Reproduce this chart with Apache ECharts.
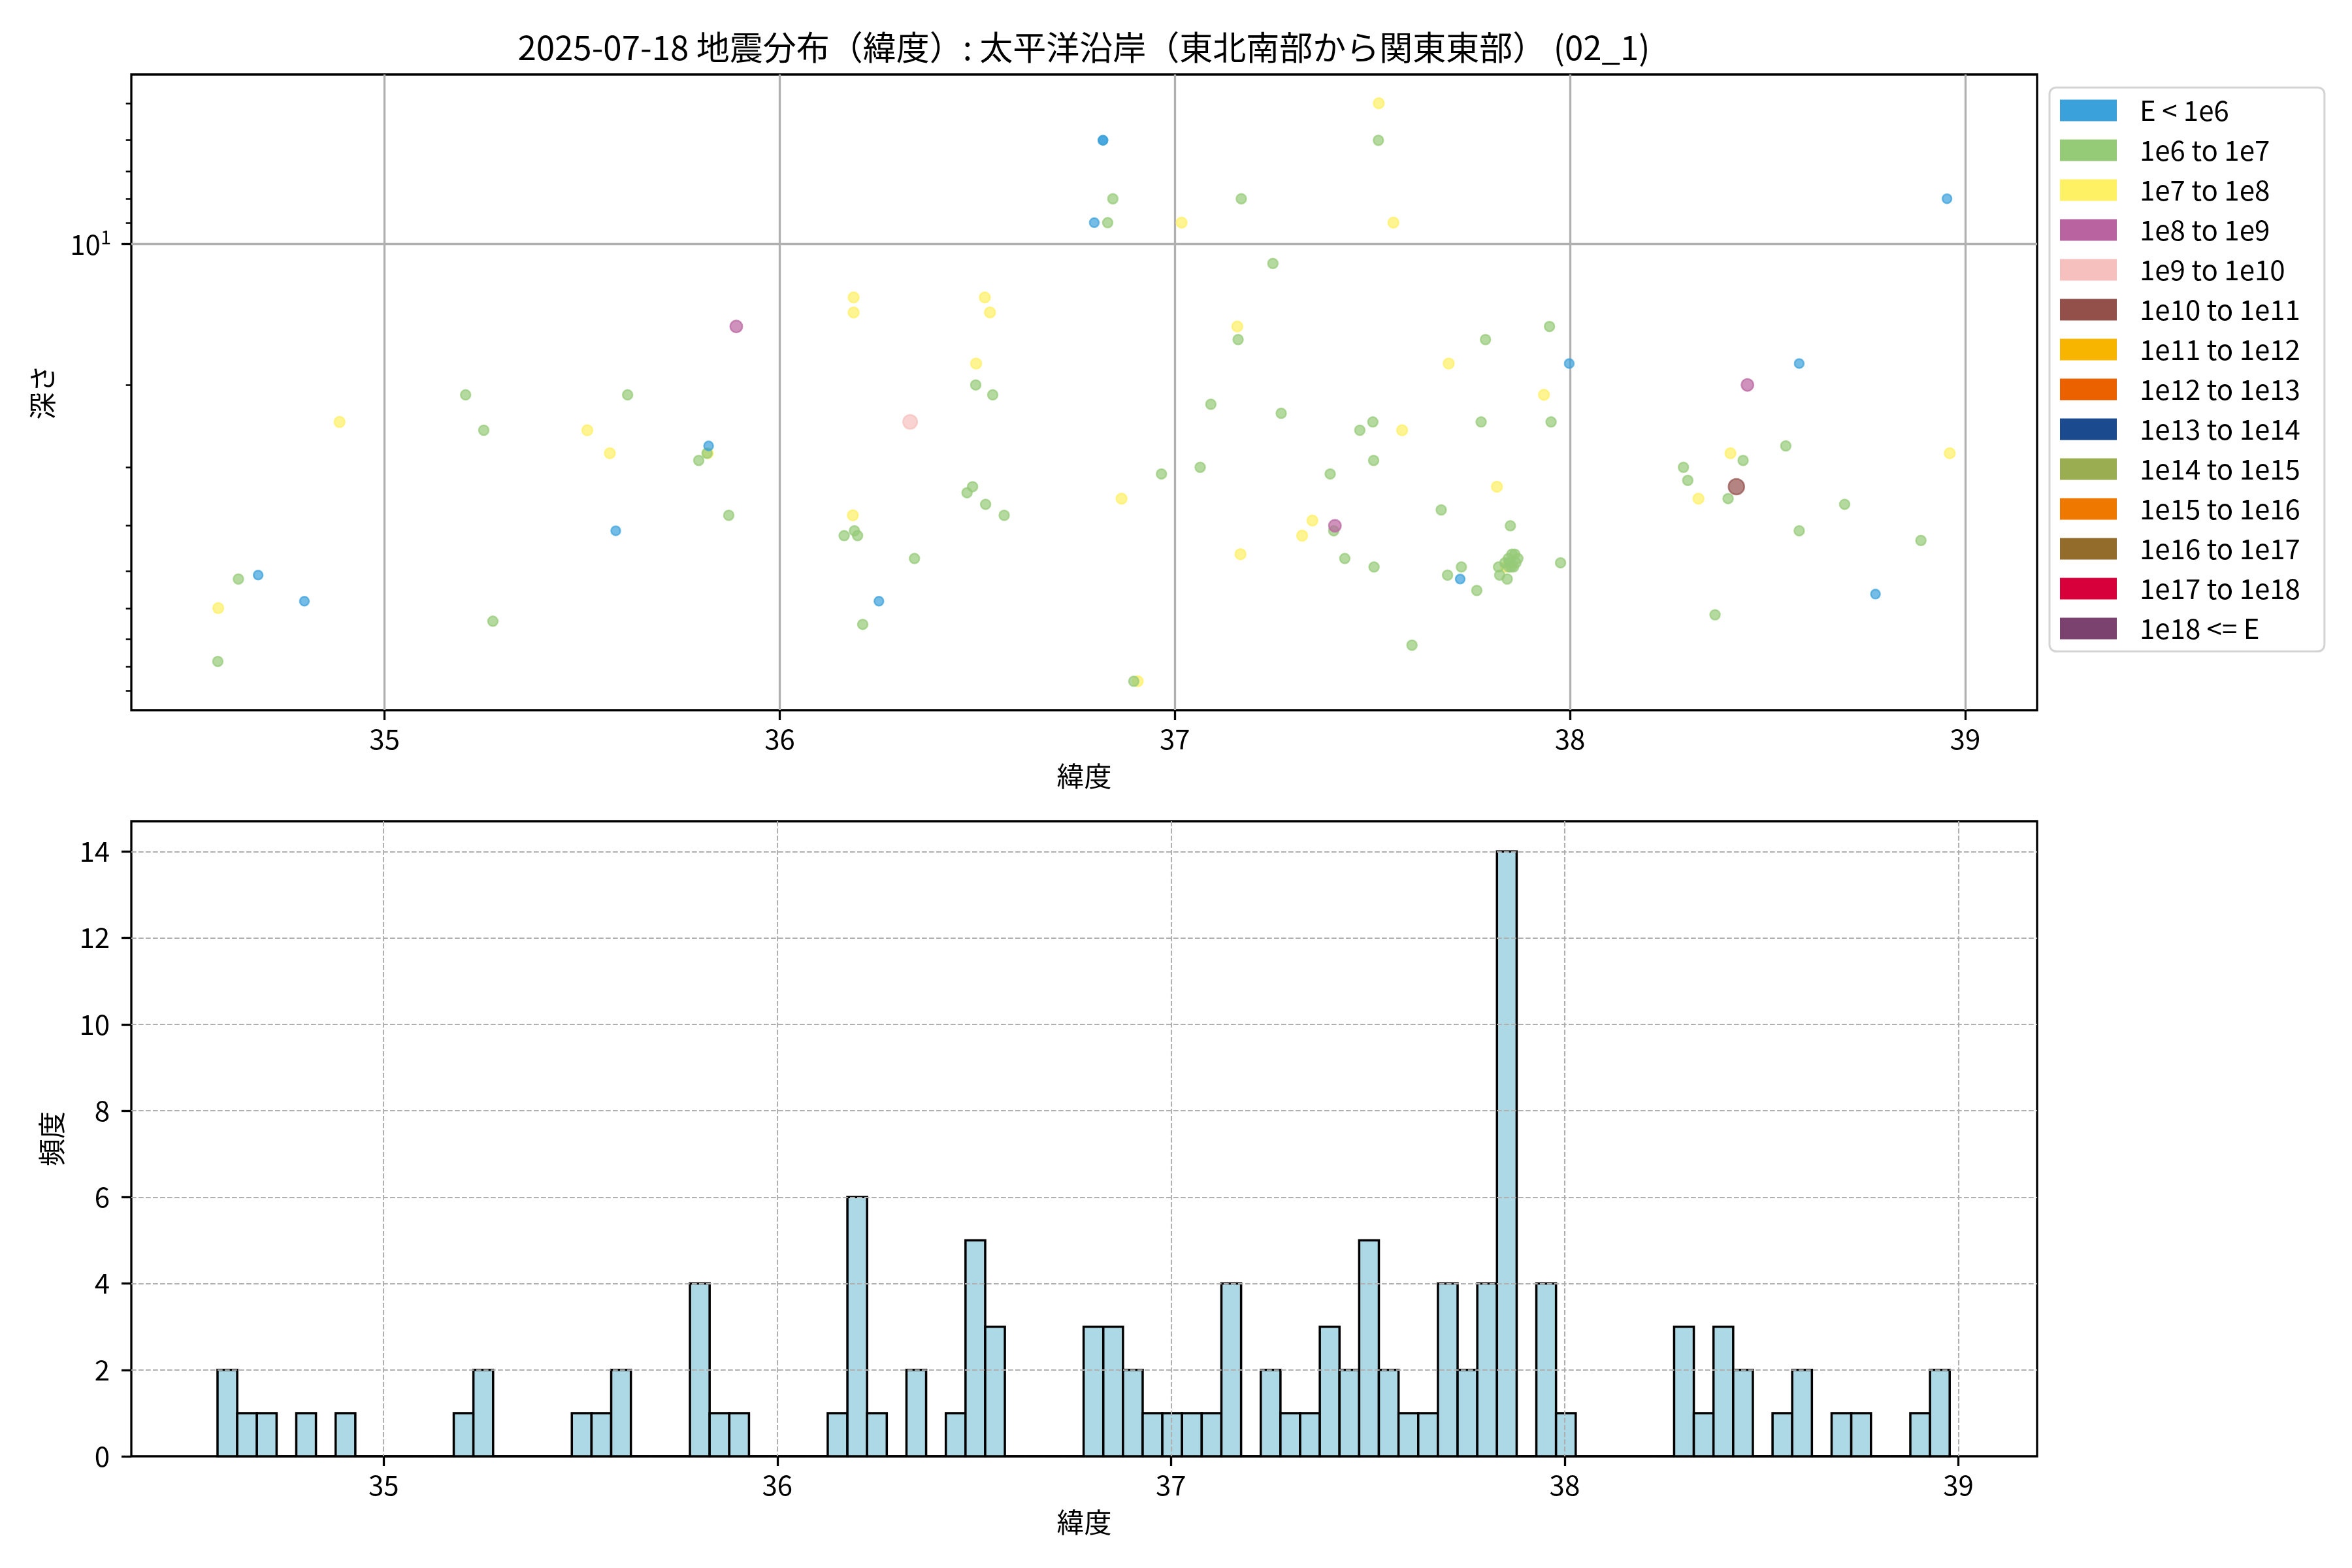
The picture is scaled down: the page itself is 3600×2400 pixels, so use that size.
<!DOCTYPE html>
<html>
<head>
<meta charset="utf-8">
<script src="https://cdn.jsdelivr.net/npm/echarts@6/dist/echarts.min.js"></script>
<style>
html,body{margin:0;padding:0;background:#ffffff;}
#chart{width:3600px;height:2400px;}
</style>
</head>
<body>
<div id="chart"></div>
<script>
// ---------------- data ----------------
const titleText = '2025-07-18 地震分布（緯度）: 太平洋沿岸（東北南部から関東東部） (02_1)';
const xAxisName = '緯度';
const depthAxisName = '深さ';
const countAxisName = '頻度';

const energyClasses = ['E < 1e6', '1e6 to 1e7', '1e7 to 1e8', '1e8 to 1e9', '1e9 to 1e10',
  '1e10 to 1e11', '1e11 to 1e12', '1e12 to 1e13', '1e13 to 1e14', '1e14 to 1e15',
  '1e15 to 1e16', '1e16 to 1e17', '1e17 to 1e18', '1e18 <= E'];
const classColors = ['#3ba1db', '#95cb77', '#fff064', '#b964a0', '#f5c0bd',
  '#93504b', '#f7b500', '#eb6100', '#1b4a8f', '#9aad50',
  '#ee7800', '#936c2c', '#d7003a', '#7c426f'];

// each earthquake: latitude, depth (km), energy class index
const quakeLat = [
  34.578, 34.579, 34.630, 34.680, 34.797, 34.886, 35.205, 35.251, 35.274, 35.513,
  35.570, 35.585, 35.615, 35.795, 35.818, 35.820, 35.816, 35.871, 35.890,
  36.187, 36.187, 36.185, 36.189, 36.163, 36.197, 36.210, 36.251, 36.330, 36.341,
  36.474, 36.488, 36.497, 36.496, 36.519, 36.521, 36.532, 36.539, 36.568,
  36.796, 36.818, 36.818, 36.830, 36.843, 36.865, 36.896, 36.906, 36.966, 37.017,
  37.064, 37.091, 37.158, 37.160, 37.168, 37.166,
  37.248, 37.269, 37.322, 37.348, 37.393, 37.405, 37.402, 37.430, 37.468, 37.501,
  37.503, 37.504, 37.515, 37.516, 37.553, 37.575,
  37.600, 37.674, 37.693, 37.690, 37.722, 37.725, 37.764, 37.775, 37.786, 37.815,
  37.819, 37.822, 37.860, 37.868, 37.844, 37.857, 37.838, 37.841, 37.850, 37.846,
  37.853, 37.863, 37.835, 37.845, 37.851, 37.849, 37.934, 37.948, 37.952, 37.976,
  37.998, 38.287, 38.298, 38.325, 38.367, 38.400, 38.406, 38.421, 38.438, 38.449,
  38.546, 38.580, 38.580, 38.695, 38.773, 38.888, 38.954, 38.961
];
const quakeDepth = [
  78, 60, 52, 51, 58, 24, 21, 25, 64, 25,
  28, 41, 21, 29, 28, 27, 28, 38, 15,
  13, 14, 38, 41, 42, 42, 65, 58, 24, 47,
  34, 33, 18, 20, 13, 36, 14, 21, 38,
  9, 6, 6, 9, 8, 35, 86, 86, 31, 9,
  30, 22, 15, 16, 8, 46,
  11, 23, 42, 39, 31, 40, 41, 47, 25, 24,
  29, 49, 6, 5, 9, 25,
  72, 37, 18, 51, 52, 49, 55, 24, 16, 33,
  49, 51, 46, 47, 47, 49, 49, 52, 48, 48,
  46, 48, 48, 49, 49, 40, 21, 15, 24, 48,
  18, 30, 32, 35, 62, 35, 28, 33, 29, 20,
  27, 18, 41, 36, 56, 43, 8, 28
];
const quakeClass = [
  1, 2, 1, 0, 0, 2, 1, 1, 1, 2,
  2, 0, 1, 1, 2, 0, 1, 1, 3,
  2, 2, 2, 1, 1, 1, 1, 0, 4, 1,
  1, 1, 2, 1, 2, 1, 2, 1, 1,
  0, 0, 0, 1, 1, 2, 1, 2, 1, 2,
  1, 1, 2, 1, 1, 2,
  1, 1, 2, 2, 1, 3, 1, 1, 1, 1,
  1, 1, 1, 2, 2, 2,
  1, 1, 2, 1, 0, 1, 1, 1, 1, 2,
  1, 1, 1, 1, 1, 1, 2, 1, 1, 1,
  1, 1, 1, 1, 1, 1, 2, 1, 1, 1,
  0, 1, 1, 2, 1, 1, 2, 5, 1, 3,
  1, 0, 1, 1, 0, 1, 0, 2
];

const latTicks = [35, 36, 37, 38, 39];
const depthMajorTicks = [10];
const depthMinorTicks = [5, 6, 7, 8, 9, 20, 30, 40, 50, 60, 70, 80, 90];

// histogram of latitude: first bin edge, bin width, counts per bin
const histBinStart = 34.578;
const histBinWidth = 0.05;
const histCounts = [
  2, 1, 1, 0, 1, 0, 1, 0, 0, 0,
  0, 0, 1, 2, 0, 0, 0, 0, 1, 1,
  2, 0, 0, 0, 4, 1, 1, 0, 0, 0,
  0, 1, 6, 1, 0, 2, 0, 1, 5, 3,
  0, 0, 0, 0, 3, 3, 2, 1, 1, 1,
  1, 4, 0, 2, 1, 1, 3, 2, 5, 2,
  1, 1, 4, 2, 4, 14, 0, 4, 1, 0,
  0, 0, 0, 0, 3, 1, 3, 2, 0, 1,
  2, 0, 1, 1, 0, 0, 1, 2
];
const countTicks = [0, 2, 4, 6, 8, 10, 12, 14];

// axis limits
const scatterLatRange = [34.359, 39.182];
const depthRange = [4.34, 99.15];
const histLatRange = [34.359, 39.200];
const countRange = [0, 14.7];

// ---------------- styling ----------------
const FONT = '"Noto Sans CJK JP", "Noto Sans", sans-serif';
const FS = 42;
const classSizes = [14, 15, 16, 18.5, 21.5, 24, 25, 26, 27, 28, 29, 30, 31, 32];
const classZ = [4, 3, 2, 5, 6, 7, 8, 8, 8, 8, 8, 8, 8, 8];
const tickStyle = {color: '#000', width: 3.3};

const scatterSeries = energyClasses.map((name, c) => ({
  type: 'scatter',
  name: name,
  xAxisIndex: 0,
  yAxisIndex: 0,
  symbol: 'circle',
  symbolSize: classSizes[c],
  data: quakeLat.map((lat, i) => [lat, quakeDepth[i], quakeClass[i]])
    .filter(d => d[2] === c).map(d => [d[0], d[1]]),
  itemStyle: {color: classColors[c], opacity: 0.7, borderColor: classColors[c], borderWidth: 2.5},
  z: classZ[c],
  silent: true,
  animation: false
}));

const histData = histCounts.map((n, i) => [
  histBinStart + i * histBinWidth,
  histBinStart + (i + 1) * histBinWidth,
  n
]);

const histSeries = {
  type: 'custom',
  name: 'hist',
  xAxisIndex: 1,
  yAxisIndex: 2,
  data: histData,
  encode: {x: [0, 1], y: 2},
  z: 1,
  silent: true,
  animation: false,
  renderItem: function (params, api) {
    const p0 = api.coord([api.value(0), api.value(2)]);
    const p1 = api.coord([api.value(1), 0]);
    return {
      type: 'rect',
      shape: {x: p0[0], y: p0[1], width: p1[0] - p0[0], height: p1[1] - p0[1]},
      style: {fill: '#add8e6', stroke: '#000000', lineWidth: 3.5}
    };
  }
};

function powLabel(v) {
  const k = Math.round(Math.log10(v));
  return '{b|10}{s|' + k + '}';
}

const option = {
  backgroundColor: '#ffffff',
  animation: false,
  title: {
    text: titleText,
    left: 1659,
    top: 47,
    padding: 0,
    textAlign: 'center',
    textStyle: {fontFamily: FONT, fontSize: 51, fontWeight: 'normal', color: '#000'}
  },
  legend: {
    orient: 'vertical',
    left: 3137,
    top: 134,
    padding: [14, 37, 14, 16],
    itemWidth: 87,
    itemHeight: 33,
    itemGap: 19,
    icon: 'rect',
    selectedMode: false,
    borderColor: '#d4d4d4',
    borderWidth: 3,
    borderRadius: 10,
    backgroundColor: '#ffffff',
    data: energyClasses,
    itemStyle: {opacity: 1, borderWidth: 0},
    textStyle: {fontFamily: FONT, fontSize: FS, color: '#000', padding: [0, 0, 0, 30]}
  },
  grid: [
    {left: 201, top: 114, width: 2917, height: 973, show: true, borderColor: '#000', borderWidth: 3.3,
      backgroundColor: 'transparent', containLabel: false, outerBoundsMode: 'none'},
    {left: 201, top: 1257, width: 2917, height: 972, show: true, borderColor: '#000', borderWidth: 3.3,
      backgroundColor: 'transparent', containLabel: false, outerBoundsMode: 'none'}
  ],
  xAxis: [
    {
      type: 'value', gridIndex: 0, min: scatterLatRange[0], max: scatterLatRange[1],
      axisLine: {show: false, onZero: false},
      axisTick: {show: true, customValues: latTicks, length: 15, lineStyle: tickStyle},
      axisLabel: {customValues: latTicks, fontFamily: FONT, fontSize: FS, color: '#000', margin: 23},
      splitLine: {show: true, lineStyle: {color: '#b0b0b0', width: 3.3}},
      name: xAxisName, nameLocation: 'middle', nameGap: 80,
      nameTextStyle: {fontFamily: FONT, fontSize: FS, color: '#000'}
    },
    {
      type: 'value', gridIndex: 1, min: histLatRange[0], max: histLatRange[1], z: 5,
      axisLine: {show: false, onZero: false},
      axisTick: {show: true, customValues: latTicks, length: 15, lineStyle: tickStyle},
      axisLabel: {customValues: latTicks, fontFamily: FONT, fontSize: FS, color: '#000', margin: 23},
      splitLine: {show: true, lineStyle: {color: '#b0b0b0', width: 2.1, type: [7.7, 3.3]}},
      name: xAxisName, nameLocation: 'middle', nameGap: 80,
      nameTextStyle: {fontFamily: FONT, fontSize: FS, color: '#000'}
    }
  ],
  yAxis: [
    {
      type: 'log', logBase: 10, gridIndex: 0, position: 'left', inverse: true,
      min: depthRange[0], max: depthRange[1],
      axisLine: {show: false, onZero: false},
      axisTick: {show: true, customValues: depthMajorTicks, length: 15, lineStyle: tickStyle},
      axisLabel: {
        customValues: depthMajorTicks, margin: 31, formatter: powLabel,
        rich: {
          b: {fontFamily: FONT, fontSize: FS, color: '#000'},
          s: {fontFamily: FONT, fontSize: 29, color: '#000', padding: [0, 0, 22, 0]}
        }
      },
      splitLine: {show: true, lineStyle: {color: '#b0b0b0', width: 3.3}},
      name: depthAxisName, nameLocation: 'middle', nameGap: 115,
      nameTextStyle: {fontFamily: FONT, fontSize: FS, color: '#000'}
    },
    {
      type: 'log', logBase: 10, gridIndex: 0, position: 'left', inverse: true,
      min: depthRange[0], max: depthRange[1],
      axisLine: {show: false, onZero: false},
      axisTick: {show: true, customValues: depthMinorTicks, length: 8.3, lineStyle: {color: '#000', width: 2.5}},
      axisLabel: {show: false},
      splitLine: {show: false}
    },
    {
      type: 'value', gridIndex: 1, position: 'left', min: countRange[0], max: countRange[1], z: 5,
      axisLine: {show: false, onZero: false},
      axisTick: {show: true, customValues: countTicks, length: 15, lineStyle: tickStyle},
      axisLabel: {customValues: countTicks, fontFamily: FONT, fontSize: FS, color: '#000', margin: 33},
      splitLine: {show: true, showMinLine: false, lineStyle: {color: '#b0b0b0', width: 2.1, type: [7.7, 3.3]}},
      name: countAxisName, nameLocation: 'middle', nameGap: 101,
      nameTextStyle: {fontFamily: FONT, fontSize: FS, color: '#000'}
    }
  ],
  series: scatterSeries.concat([histSeries])
};

const chart = echarts.init(document.getElementById('chart'), null, {renderer: 'canvas', width: 3600, height: 2400});
chart.setOption(option);
</script>
</body>
</html>
